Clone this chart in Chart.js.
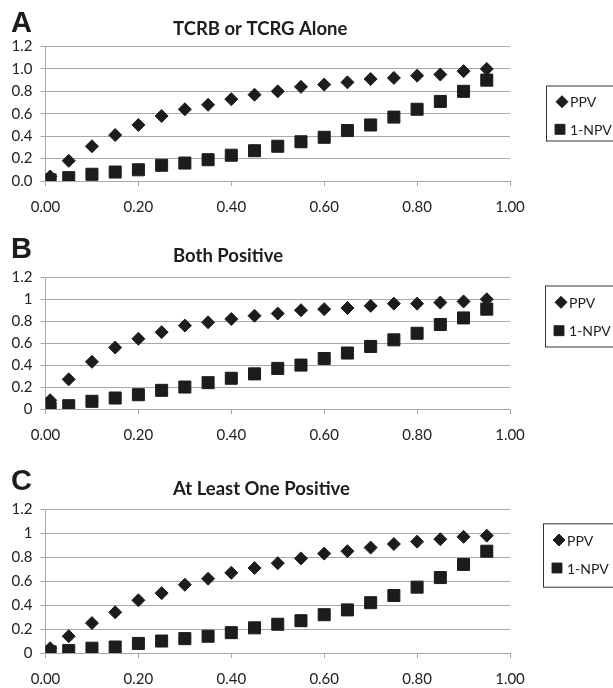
<!DOCTYPE html>
<html>
<head>
<meta charset="utf-8">
<script src="https://cdn.jsdelivr.net/npm/chart.js@4.4.0/dist/chart.umd.min.js"></script>
<style>
  html, body { margin: 0; padding: 0; background: #fff; }
  #wrap { position: relative; width: 613px; height: 688px; overflow: hidden; }
  canvas { position: absolute; left: 0; }
</style>
</head>
<body>
<div id="wrap">
  <canvas id="chartA" width="613" height="229" style="top:0px"></canvas>
  <canvas id="chartB" width="613" height="229" style="top:229px"></canvas>
  <canvas id="chartC" width="613" height="230" style="top:458px"></canvas>
</div>
<script>
// x values (prevalence) shared by all three panels
const prevalence = [0.01, 0.05, 0.10, 0.15, 0.20, 0.25, 0.30, 0.35, 0.40, 0.45,
                    0.50, 0.55, 0.60, 0.65, 0.70, 0.75, 0.80, 0.85, 0.90, 0.95];

// A - TCRB or TCRG alone
const ppvA = [0.04, 0.18, 0.31, 0.41, 0.50, 0.58, 0.64, 0.68, 0.73, 0.77,
              0.80, 0.84, 0.86, 0.88, 0.91, 0.92, 0.94, 0.95, 0.98, 1.00];
const npvA = [0.01, 0.03, 0.06, 0.08, 0.10, 0.14, 0.16, 0.19, 0.23, 0.27,
              0.31, 0.35, 0.39, 0.45, 0.50, 0.57, 0.64, 0.71, 0.80, 0.90];

// B - both positive
const ppvB = [0.08, 0.27, 0.43, 0.56, 0.64, 0.70, 0.76, 0.79, 0.82, 0.85,
              0.87, 0.90, 0.91, 0.92, 0.94, 0.96, 0.96, 0.97, 0.98, 1.00];
const npvB = [0.01, 0.03, 0.07, 0.10, 0.13, 0.17, 0.20, 0.24, 0.28, 0.32,
              0.37, 0.40, 0.46, 0.51, 0.57, 0.63, 0.69, 0.77, 0.83, 0.91];

// C - at least one positive
const ppvC = [0.04, 0.14, 0.25, 0.34, 0.44, 0.50, 0.57, 0.62, 0.67, 0.71,
              0.75, 0.79, 0.83, 0.85, 0.88, 0.91, 0.93, 0.95, 0.97, 0.98];
const npvC = [0.01, 0.02, 0.04, 0.05, 0.08, 0.10, 0.12, 0.14, 0.17, 0.21,
              0.24, 0.27, 0.32, 0.36, 0.42, 0.48, 0.55, 0.63, 0.74, 0.85];

const seriesNames = ['PPV', '1-NPV'];
const xTickLabels = ['0.00', '0.20', '0.40', '0.60', '0.80', '1.00'];
const yTickLabelsA = ['0.0', '0.2', '0.4', '0.6', '0.8', '1.0', '1.2'];
const yTickLabelsBC = ['0', '0.2', '0.4', '0.6', '0.8', '1', '1.2'];

const INK = '#1c1c1c';
const GRID = '#a8a8a8';
const FONT = 'Lato';

// panel letter, title and the boxed legend on the right
const panelText = {
  id: 'panelText',
  afterDraw(chart, args, o) {
    const ctx = chart.ctx;
    ctx.save();
    ctx.fillStyle = INK;
    ctx.textBaseline = 'alphabetic';
    ctx.textAlign = 'left';
    ctx.font = 'bold 29px "Liberation Sans"';
    ctx.fillText(o.letter, 11, o.letterY);
    ctx.font = 'bold 18.5px ' + FONT;
    ctx.fillText(o.title, 173, o.titleY);

    // legend box
    ctx.strokeStyle = '#333';
    ctx.lineWidth = 1;
    ctx.strokeRect(o.legX + 0.5, o.legTop + 0.5, 100, o.legBottom - o.legTop);
    ctx.font = '14px ' + FONT;
    ctx.textBaseline = 'middle';
    chart.data.datasets.forEach((ds, i) => {
      const y = o.legRows[i];
      const isRect = ds.pointStyle === 'rect';
      ctx.fillStyle = INK;
      ctx.strokeStyle = INK;
      Chart.helpers.drawPoint(ctx, {
        pointStyle: ds.pointStyle, rotation: 0, borderWidth: 1,
        radius: isRect ? 7 : 6
      }, o.legX + (isRect ? 14 : 16), y);
      ctx.fillStyle = INK;
      ctx.fillText(ds.label, o.legX + 24, y + 1);
    });
    ctx.restore();
  }
};

function makePanel(id, ppv, npv, yLabels, cfg) {
  const H = document.getElementById(id).height;
  new Chart(document.getElementById(id), {
    type: 'scatter',
    data: {
      datasets: [
        {
          label: seriesNames[0],
          data: prevalence.map((x, i) => ({ x: x, y: ppv[i] })),
          pointStyle: 'rectRot',
          pointRadius: 6.5,
          backgroundColor: INK,
          borderColor: INK,
          borderWidth: 1,
          order: 1
        },
        {
          label: seriesNames[1],
          data: prevalence.map((x, i) => ({ x: x, y: npv[i] })),
          pointStyle: 'rect',
          pointRadius: 8.5,
          backgroundColor: INK,
          borderColor: INK,
          borderWidth: 1,
          order: 0
        }
      ]
    },
    options: {
      responsive: false,
      animation: false,
      events: [],
      layout: { padding: { top: cfg.top, left: 0, right: 103, bottom: 0 } },
      plugins: {
        legend: { display: false },
        tooltip: { enabled: false },
        title: { display: false },
        panelText: cfg
      },
      scales: {
        x: {
          type: 'linear',
          min: 0,
          max: 1,
          afterFit: s => { s.height = H - cfg.bottom; },
          ticks: {
            stepSize: 0.2,
            padding: 12,
            color: '#222',
            font: { family: FONT, size: 15 },
            callback: (v, i) => xTickLabels[i]
          },
          grid: { drawOnChartArea: false, drawTicks: true, tickLength: 5, color: GRID },
          border: { color: GRID }
        },
        y: {
          min: 0,
          max: 1.2,
          afterFit: s => { s.width = 45.5; },
          ticks: {
            stepSize: 0.2,
            padding: 8,
            color: '#222',
            font: { family: FONT, size: 15 },
            callback: (v, i) => yLabels[i]
          },
          grid: { color: GRID, tickLength: 5 },
          border: { color: GRID }
        }
      }
    },
    plugins: [panelText]
  });
}

makePanel('chartA', ppvA, npvA, yTickLabelsA, {
  letter: 'A', letterY: 31.5, title: 'TCRB or TCRG Alone', titleY: 34.5,
  top: 46.5, bottom: 181,
  legX: 546, legTop: 85.5, legBottom: 140.5, legRows: [101.7, 129.3]
});
makePanel('chartB', ppvB, npvB, yTickLabelsBC, {
  letter: 'B', letterY: 29.3, title: 'Both Positive', titleY: 32.5,
  top: 48.3, bottom: 180,
  legX: 545, legTop: 56.5, legBottom: 117.5, legRows: [73.3, 101.7]
});
makePanel('chartC', ppvC, npvC, yTickLabelsBC, {
  letter: 'C', letterY: 31.5, title: 'At Least One Positive', titleY: 36.5,
  top: 51.3, bottom: 195,
  legX: 543, legTop: 65.3, legBottom: 128.7, legRows: [82, 110]
});
</script>
</body>
</html>
